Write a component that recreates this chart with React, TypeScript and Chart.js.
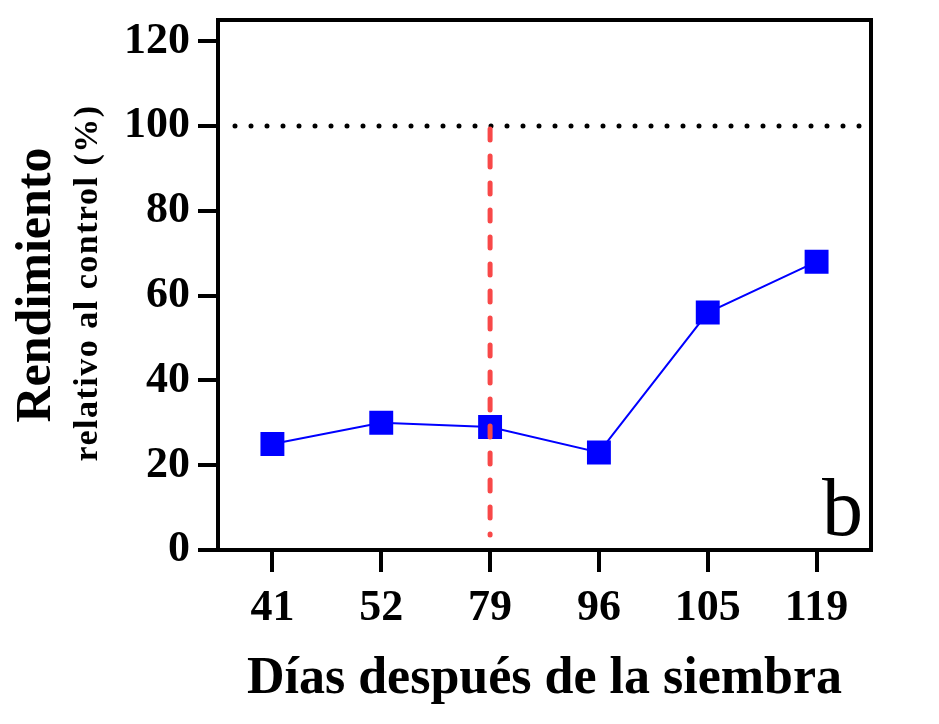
import { useEffect, useRef } from "react";
import { Chart, registerables, type Plugin } from "chart.js";

Chart.register(...registerables);

// data
const days = ["41", "52", "79", "96", "105", "119"];
const yieldPct = [25, 30, 29, 23, 56, 68];
const yTicks = [0, 20, 40, 60, 80, 100, 120];
const yMax = 125;
const controlLevel = 100;
const cutoffDay = "79";

const yTitle = "Rendimiento";
const ySubTitle = "relativo al control (%)";
const xTitle = "Días después de la siembra";
const panelTag = "b";

const SERIF = "'Liberation Serif', 'Times New Roman', serif";

const overlay: Plugin<"line"> = {
  id: "overlay",
  afterDatasetsDraw(chart) {
    const { ctx, chartArea: a, scales } = chart;
    const x = scales.x;
    const y = scales.y;
    const yCtl = y.getPixelForValue(controlLevel);
    ctx.save();
    // dotted control line at 100 %
    ctx.strokeStyle = "#000";
    ctx.lineWidth = 5;
    ctx.lineCap = "round";
    ctx.setLineDash([0, 16]);
    ctx.beginPath();
    ctx.moveTo(a.left + 17, yCtl);
    ctx.lineTo(a.right - 4, yCtl);
    ctx.stroke();
    // red dashed marker at day 79
    const xc = x.getPixelForValue(days.indexOf(cutoffDay));
    ctx.strokeStyle = "#f84848";
    ctx.lineWidth = 5;
    ctx.setLineDash([11, 16]);
    ctx.beginPath();
    ctx.moveTo(xc, yCtl + 3);
    ctx.lineTo(xc, y.getPixelForValue(0) - 15);
    ctx.stroke();
    ctx.restore();
  },
  afterDraw(chart) {
    const { ctx, chartArea: a } = chart;
    ctx.save();
    // box around the plot
    ctx.strokeStyle = "#000";
    ctx.lineWidth = 4;
    ctx.strokeRect(a.left, a.top, a.right - a.left, a.bottom - a.top);

    ctx.fillStyle = "#000";
    // panel letter
    ctx.font = `82px ${SERIF}`;
    ctx.textAlign = "right";
    ctx.textBaseline = "alphabetic";
    ctx.fillText(panelTag, a.right - 8, a.bottom - 15);

    // x title
    ctx.font = `bold 52px ${SERIF}`;
    ctx.textAlign = "center";
    ctx.fillText(xTitle, (a.left + a.right) / 2, 693);

    // y title, two lines
    const cy = (a.top + a.bottom) / 2;
    ctx.save();
    ctx.translate(50, cy);
    ctx.rotate(-Math.PI / 2);
    ctx.font = `bold 50px ${SERIF}`;
    ctx.fillText(yTitle, 0, 0);
    ctx.restore();
    ctx.save();
    ctx.translate(97, cy - 2);
    ctx.rotate(-Math.PI / 2);
    ctx.font = `bold 34px ${SERIF}`;
    (ctx as any).letterSpacing = "1.5px";
    ctx.fillText(ySubTitle, 0, 0);
    ctx.restore();
    ctx.restore();
  },
};

export default function App() {
  const canvasRef = useRef<HTMLCanvasElement | null>(null);
  const chartRef = useRef<Chart<"line"> | null>(null);

  useEffect(() => {
    document.body.style.margin = "0";
    if (!canvasRef.current) return;
    chartRef.current?.destroy();
    chartRef.current = new Chart(canvasRef.current, {
      type: "line",
      data: {
        labels: days,
        datasets: [
          {
            label: yTitle,
            data: yieldPct,
            borderColor: "#0000ff",
            backgroundColor: "#0000ff",
            borderWidth: 2,
            pointStyle: "rect",
            pointRadius: 15.5,
            pointHoverRadius: 15.5,
            tension: 0,
          },
        ],
      },
      options: {
        responsive: false,
        animation: false,
        layout: { padding: { top: 20, right: 68, left: 0, bottom: 0 } },
        plugins: { legend: { display: false }, tooltip: { enabled: false } },
        scales: {
          x: {
            offset: true,
            afterFit: (scale) => {
              scale.height = 174;
              scale.paddingLeft = 0;
              scale.paddingRight = 0;
            },
            border: { display: true, color: "#000", width: 4 },
            grid: {
              offset: false,
              drawOnChartArea: false,
              drawTicks: true,
              tickLength: 22,
              color: "#000",
              lineWidth: 4,
            },
            ticks: {
              color: "#000",
              padding: 10,
              font: { family: SERIF, size: 44, weight: "bold" },
              maxRotation: 0,
            },
          },
          y: {
            min: 0,
            max: yMax,
            afterFit: (scale) => {
              scale.width = 218;
              scale.paddingTop = 0;
              scale.paddingBottom = 0;
            },
            afterBuildTicks: (scale) => {
              scale.ticks = yTicks.map((v) => ({ value: v }));
            },
            border: { display: true, color: "#000", width: 4 },
            grid: {
              drawOnChartArea: false,
              drawTicks: true,
              tickLength: 20,
              color: "#000",
              lineWidth: 4,
            },
            ticks: {
              color: "#000",
              padding: 8,
              font: { family: SERIF, size: 44, weight: "bold" },
            },
          },
        },
      },
      plugins: [overlay],
    });
    return () => {
      chartRef.current?.destroy();
      chartRef.current = null;
    };
  }, []);

  return (
    <div style={{ width: 939, height: 724 }}>
      <canvas ref={canvasRef} width={939} height={724} />
    </div>
  );
}
